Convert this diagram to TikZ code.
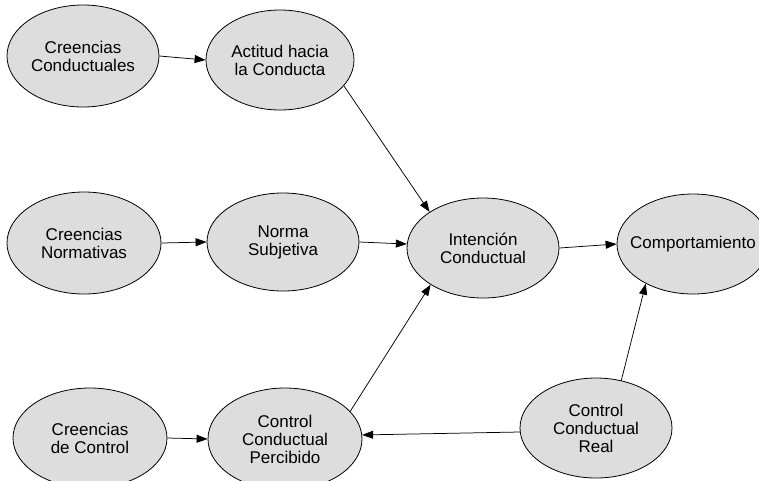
\documentclass[tikz,border=0pt]{standalone}
\usepackage{fontspec}
\setmainfont{Liberation Sans}
\usetikzlibrary{shapes.geometric,arrows.meta}
\definecolor{ellfill}{RGB}{221,221,221}
\tikzset{
  ell/.style={ellipse, draw=black, line width=0.8pt, fill=ellfill, inner sep=0pt,
              minimum width=152pt, minimum height=100pt},
  lbl/.style={align=center, font=\fontsize{17}{18}\selectfont, inner sep=0pt},
  conn/.style={line width=0.75pt, -{Triangle[length=11pt,width=8pt]}}
}
\begin{document}
\begin{tikzpicture}[x=1pt,y=-1pt]
\useasboundingbox (0,0) rectangle (759,480);
\clip (0,0) rectangle (759,480);
\node[ell, minimum height=102pt, label={[lbl]center:{Creencias\\Conductuales}}] (cc) at (83,56) {};
\node[ell, minimum width=148pt, label={[lbl]center:{Actitud hacia\\la Conducta}}] (act) at (280,60) {};
\node[ell, minimum width=154pt, minimum height=102pt, label={[lbl]center:{Creencias\\Normativas}}] (cn) at (84,243) {};
\node[ell, minimum height=98pt, label={[lbl]center:{Norma\\Subjetiva}}] (ns) at (283,242) {};
\node[ell, label={[lbl]center:{Intención\\Conductual}}] (ic) at (483,248) {};
\node[ell, label={[lbl]center:{Comportamiento}}] (comp) at (693,244) {};
\node[ell, minimum width=154pt, label={[lbl]center:{Creencias\\de Control}}] (cdc) at (90,438) {};
\node[ell, minimum width=154pt, minimum height=102pt, label={[lbl]center:{Control\\Conductual\\Percibido}}] (ccp) at (285,439) {};
\node[ell, label={[lbl]center:{Control\\Conductual\\Real}}] (ccr) at (596,428) {};
\draw[conn] (cc.east) -- (act.west);
\draw[conn] (cn.east) -- (ns.west);
\draw[conn] (cdc.east) -- (ccp.west);
\draw[conn] (ns.east) -- (ic.177);
\draw[conn] (ic.east) -- (comp.west);
\draw[conn] (act.-22.4) -- (ic.146.6);
\draw[conn] (ccp.23.4) -- (ic.-145.8);
\draw[conn] (ccr.62) -- (comp.220);
\draw[conn] (ccr.183) -- (ccp.3);
\end{tikzpicture}
\end{document}
